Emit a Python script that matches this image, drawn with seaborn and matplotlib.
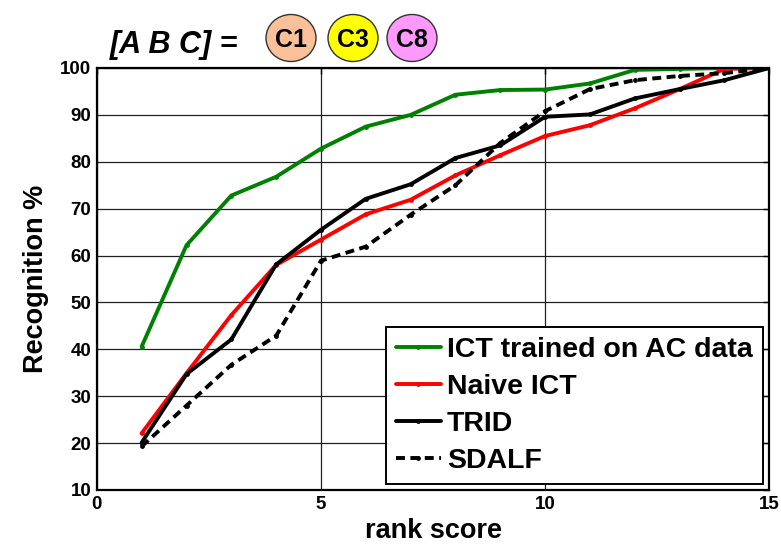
import pandas as pd
import matplotlib.pyplot as plt
import seaborn as sns
from matplotlib.patches import Ellipse

rank = list(range(1, 16))
ict_ac = [40.6, 62.2, 72.8, 76.8, 82.8, 87.5, 90.0, 94.3, 95.3, 95.4, 96.7, 99.6, 99.8, 100.0, 100.0]
naive_ict = [22.1, 34.9, 47.3, 58.0, 63.4, 68.8, 71.9, 77.1, 81.4, 85.5, 87.8, 91.4, 95.5, 99.8, 100.0]
trid = [20.1, 34.7, 42.1, 58.1, 65.5, 72.1, 75.2, 80.8, 83.5, 89.6, 90.1, 93.5, 95.5, 97.4, 100.0]
sdalf = [19.3, 28.0, 36.7, 42.9, 58.9, 61.9, 68.7, 75.0, 84.0, 90.8, 95.5, 97.4, 98.3, 98.9, 100.0]

names = ["ICT trained on AC data", "Naive ICT", "TRID", "SDALF"]
colors = ["#008000", "#ff0000", "#000000", "#000000"]

df = pd.concat([
    pd.DataFrame({"rank": rank, "val": v, "method": n})
    for n, v in zip(names, [ict_ac, naive_ict, trid, sdalf])
])

sns.set_style("white")
plt.rcParams['font.family'] = ['Liberation Sans', 'DejaVu Sans']
plt.rcParams['font.weight'] = 'bold'
plt.rcParams['text.color'] = 'black'
plt.rcParams['axes.labelcolor'] = 'black'
plt.rcParams['xtick.color'] = 'black'
plt.rcParams['ytick.color'] = 'black'

fig = plt.figure(figsize=(7.81, 5.44), dpi=100)
ax = fig.add_axes([0.124, 0.0993, 0.861, 0.7757])

sns.lineplot(data=df, x="rank", y="val", hue="method", style="method",
             palette=dict(zip(names, colors)),
             dashes={names[0]: "", names[1]: "", names[2]: "", names[3]: (2.3, 1.4)},
             markers={n: "o" for n in names}, markersize=3.5, markeredgewidth=0,
             linewidth=2.8, ax=ax, legend=True)

ax.set_xlim(0, 15)
ax.set_ylim(10, 100)
ax.set_xticks([0, 5, 10, 15])
ax.set_yticks(range(10, 101, 10))
ax.grid(True, color="#202020", linewidth=0.9)
ax.set_axisbelow(True)
for s in ax.spines.values():
    s.set_color("black")
    s.set_linewidth(1.6)
ax.tick_params(direction="in", top=True, right=True, length=4, width=1,
               labelsize=13.5, colors="black", pad=4)
for lab in ax.get_xticklabels() + ax.get_yticklabels():
    lab.set_fontweight("bold")
ax.set_xlabel("rank score", fontsize=19.5, fontweight="bold", labelpad=4)
ax.set_ylabel("Recognition %", fontsize=19.5, fontweight="bold", labelpad=8)

leg = ax.legend(loc="lower right", bbox_to_anchor=(0.99, 0.015), fontsize=20.5,
                frameon=True, fancybox=False, framealpha=1, edgecolor="black",
                handlelength=1.6, handletextpad=0.2, labelspacing=0.38,
                borderpad=0.35, borderaxespad=0.0)
leg.get_frame().set_linewidth(1.4)
for t in leg.get_texts():
    t.set_fontweight("bold")
    t.set_color("black")

fig.text(110 / 781, 1 - 45 / 544, "[A B C] =", fontsize=22, fontweight="bold",
         fontstyle="italic", va="center", ha="left")
circ = [("C1", 291, "#f9c09a"), ("C3", 353, "#ffff00"), ("C8", 412, "#ff99ff")]
for lbl, cx, fc in circ:
    e = Ellipse((cx / 781, 1 - 38 / 544), 50 / 781, 47 / 544, transform=fig.transFigure,
                facecolor=fc, edgecolor="#333333", linewidth=1)
    fig.patches.append(e)
    fig.text(cx / 781, 1 - 40 / 544, lbl, fontsize=18, fontweight="bold",
             ha="center", va="center")

fig.savefig("out.png", dpi=100)
